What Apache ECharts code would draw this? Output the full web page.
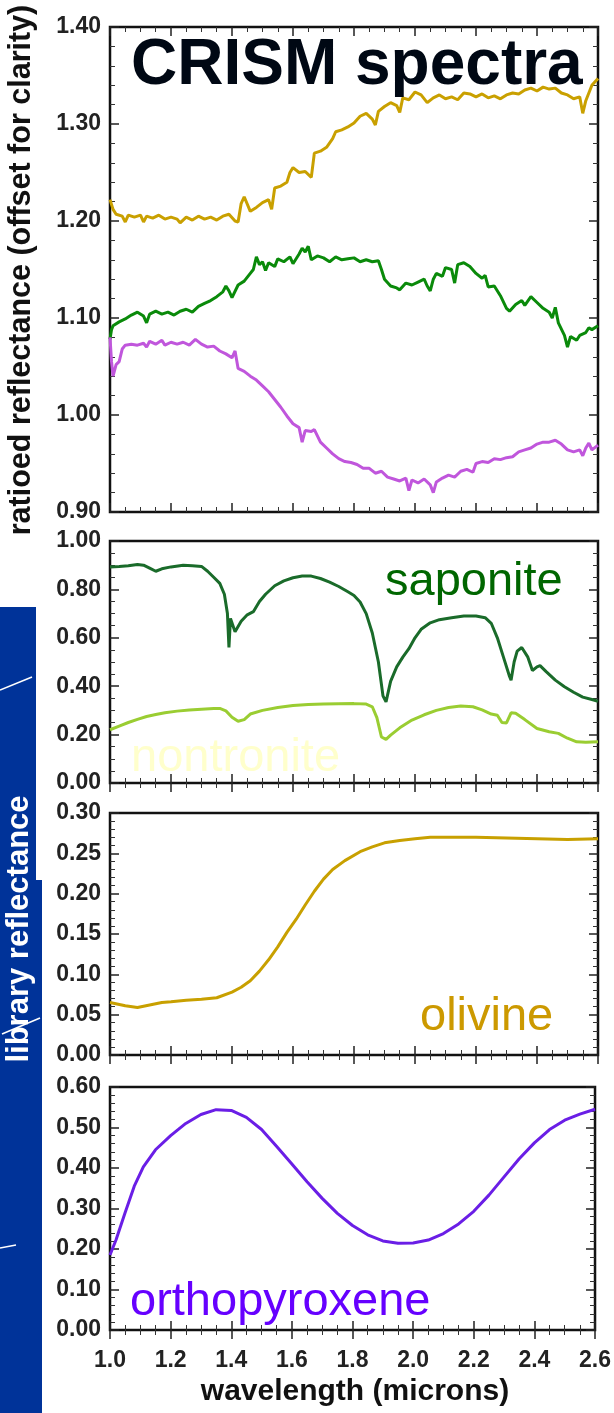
<!DOCTYPE html>
<html>
<head>
<meta charset="utf-8">
<script src="https://cdn.jsdelivr.net/npm/echarts@6/dist/echarts.min.js"></script>
<style>
  html, body { margin: 0; padding: 0; background: #fff; }
  #chart { width: 614px; height: 1413px; }
</style>
</head>
<body>
<div id="chart"></div>
<script>
// CRISM ratioed spectra (top panel)
const goldWl = [1.00,1.01,1.02,1.04,1.05,1.06,1.08,1.10,1.11,1.12,1.14,1.16,1.18,1.20,1.22,1.23,1.25,1.27,1.29,1.31,1.33,1.35,1.37,1.39,1.41,1.42,1.43,1.44,1.46,1.48,1.50,1.52,1.53,1.54,1.56,1.58,1.59,1.60,1.62,1.64,1.66,1.67,1.69,1.71,1.73,1.74,1.76,1.78,1.80,1.82,1.84,1.86,1.87,1.88,1.90,1.92,1.94,1.95,1.96,1.98,2.00,2.02,2.04,2.06,2.08,2.10,2.12,2.14,2.16,2.18,2.20,2.22,2.24,2.26,2.28,2.30,2.32,2.34,2.36,2.38,2.40,2.42,2.44,2.46,2.48,2.50,2.52,2.54,2.55,2.56,2.58,2.60];
const goldVal = [1.222,1.212,1.207,1.205,1.199,1.206,1.204,1.206,1.199,1.205,1.203,1.206,1.202,1.204,1.202,1.198,1.204,1.201,1.205,1.202,1.204,1.201,1.205,1.207,1.200,1.199,1.218,1.225,1.210,1.214,1.219,1.222,1.212,1.234,1.236,1.240,1.250,1.255,1.250,1.251,1.245,1.270,1.272,1.276,1.285,1.292,1.294,1.297,1.301,1.308,1.311,1.305,1.299,1.313,1.318,1.322,1.319,1.312,1.327,1.325,1.333,1.330,1.322,1.327,1.330,1.326,1.328,1.325,1.332,1.331,1.328,1.331,1.327,1.329,1.326,1.330,1.332,1.331,1.335,1.337,1.334,1.338,1.336,1.337,1.332,1.330,1.326,1.328,1.311,1.324,1.340,1.347];

const greenWl = [1.00,1.005,1.01,1.03,1.05,1.07,1.09,1.11,1.12,1.13,1.15,1.17,1.19,1.21,1.23,1.25,1.27,1.29,1.31,1.33,1.35,1.37,1.38,1.39,1.40,1.42,1.44,1.46,1.47,1.48,1.49,1.50,1.51,1.52,1.54,1.55,1.57,1.59,1.60,1.62,1.63,1.64,1.65,1.66,1.68,1.70,1.72,1.74,1.76,1.78,1.80,1.82,1.84,1.86,1.88,1.89,1.90,1.92,1.94,1.95,1.97,1.99,2.01,2.03,2.04,2.05,2.06,2.07,2.09,2.10,2.12,2.13,2.14,2.16,2.18,2.20,2.22,2.23,2.24,2.26,2.28,2.30,2.31,2.33,2.35,2.36,2.38,2.40,2.42,2.44,2.45,2.46,2.47,2.49,2.50,2.51,2.53,2.54,2.56,2.57,2.58,2.60];
const greenVal = [1.078,1.088,1.092,1.096,1.099,1.103,1.106,1.102,1.095,1.104,1.107,1.104,1.106,1.103,1.107,1.109,1.106,1.112,1.115,1.118,1.122,1.127,1.133,1.128,1.121,1.134,1.138,1.146,1.150,1.163,1.155,1.158,1.149,1.157,1.153,1.161,1.158,1.163,1.156,1.166,1.172,1.168,1.174,1.160,1.164,1.162,1.158,1.163,1.160,1.161,1.162,1.158,1.160,1.158,1.159,1.150,1.140,1.133,1.131,1.129,1.136,1.134,1.137,1.140,1.133,1.128,1.140,1.146,1.143,1.152,1.150,1.136,1.155,1.157,1.153,1.146,1.141,1.144,1.132,1.133,1.123,1.110,1.107,1.114,1.118,1.113,1.122,1.116,1.110,1.106,1.100,1.111,1.095,1.082,1.070,1.081,1.077,1.082,1.085,1.090,1.088,1.092];

const purpleWl = [1.00,1.005,1.01,1.02,1.03,1.04,1.05,1.07,1.09,1.11,1.12,1.13,1.15,1.17,1.18,1.20,1.22,1.24,1.26,1.28,1.30,1.32,1.34,1.36,1.38,1.40,1.41,1.42,1.44,1.46,1.48,1.50,1.52,1.54,1.56,1.58,1.60,1.62,1.63,1.64,1.66,1.67,1.69,1.71,1.73,1.75,1.77,1.79,1.81,1.83,1.85,1.87,1.89,1.91,1.93,1.95,1.97,1.98,1.99,2.01,2.03,2.05,2.06,2.07,2.09,2.11,2.13,2.15,2.17,2.19,2.20,2.22,2.24,2.26,2.28,2.30,2.32,2.34,2.36,2.38,2.40,2.42,2.44,2.46,2.48,2.50,2.52,2.54,2.55,2.56,2.57,2.58,2.60];
const purpleVal = [1.080,1.055,1.040,1.052,1.055,1.068,1.072,1.073,1.072,1.074,1.070,1.076,1.073,1.077,1.072,1.075,1.073,1.075,1.072,1.078,1.073,1.070,1.071,1.066,1.063,1.059,1.066,1.048,1.045,1.040,1.036,1.030,1.024,1.016,1.008,0.999,0.991,0.987,0.972,0.984,0.983,0.985,0.972,0.966,0.960,0.955,0.952,0.951,0.949,0.945,0.945,0.940,0.942,0.936,0.934,0.932,0.935,0.922,0.933,0.930,0.934,0.928,0.920,0.931,0.935,0.938,0.936,0.942,0.944,0.941,0.950,0.952,0.951,0.955,0.954,0.956,0.957,0.962,0.964,0.966,0.970,0.972,0.972,0.974,0.970,0.964,0.962,0.964,0.958,0.966,0.971,0.964,0.969];

// library spectra
const saponiteWl = [1.00,1.03,1.06,1.09,1.11,1.13,1.15,1.17,1.20,1.24,1.27,1.30,1.32,1.34,1.36,1.375,1.385,1.39,1.395,1.41,1.43,1.45,1.47,1.49,1.51,1.54,1.57,1.60,1.63,1.66,1.69,1.72,1.75,1.78,1.80,1.82,1.84,1.86,1.88,1.895,1.905,1.92,1.94,1.96,1.98,2.00,2.02,2.05,2.08,2.12,2.16,2.20,2.23,2.25,2.27,2.29,2.31,2.315,2.325,2.335,2.35,2.37,2.385,2.40,2.41,2.43,2.46,2.49,2.52,2.55,2.58,2.60];
const saponiteVal = [0.893,0.895,0.898,0.903,0.900,0.888,0.875,0.885,0.893,0.900,0.898,0.895,0.875,0.850,0.825,0.780,0.700,0.560,0.680,0.625,0.668,0.695,0.708,0.750,0.780,0.815,0.835,0.848,0.855,0.855,0.845,0.830,0.812,0.790,0.775,0.748,0.700,0.620,0.500,0.360,0.335,0.420,0.480,0.520,0.555,0.600,0.635,0.662,0.675,0.683,0.690,0.690,0.683,0.660,0.600,0.520,0.440,0.425,0.500,0.545,0.560,0.520,0.465,0.480,0.485,0.460,0.425,0.398,0.375,0.355,0.345,0.338];

const nontroniteWl = [1.00,1.03,1.06,1.09,1.12,1.15,1.18,1.22,1.26,1.30,1.34,1.36,1.38,1.40,1.42,1.44,1.46,1.50,1.55,1.60,1.65,1.70,1.75,1.80,1.84,1.86,1.875,1.89,1.905,1.92,1.95,1.99,2.03,2.07,2.11,2.15,2.19,2.22,2.25,2.27,2.285,2.30,2.315,2.33,2.36,2.40,2.44,2.47,2.50,2.53,2.56,2.60];
const nontroniteVal = [0.220,0.235,0.250,0.263,0.275,0.283,0.290,0.297,0.302,0.305,0.308,0.308,0.298,0.272,0.255,0.262,0.285,0.300,0.312,0.320,0.324,0.326,0.327,0.328,0.326,0.315,0.270,0.190,0.180,0.198,0.228,0.260,0.282,0.300,0.312,0.318,0.315,0.302,0.285,0.280,0.250,0.248,0.290,0.288,0.262,0.225,0.212,0.205,0.185,0.170,0.168,0.170];

const olivineWl = [1.00,1.05,1.09,1.13,1.17,1.20,1.25,1.30,1.35,1.40,1.43,1.46,1.49,1.52,1.55,1.58,1.61,1.64,1.67,1.70,1.73,1.77,1.82,1.86,1.90,1.95,2.00,2.05,2.10,2.20,2.30,2.40,2.50,2.60];
const olivineVal = [0.065,0.061,0.059,0.062,0.065,0.066,0.068,0.069,0.071,0.078,0.084,0.092,0.104,0.118,0.134,0.152,0.168,0.186,0.203,0.218,0.230,0.241,0.252,0.258,0.263,0.266,0.268,0.270,0.270,0.270,0.269,0.268,0.267,0.268];

const opxWl = [1.00,1.02,1.05,1.08,1.11,1.15,1.20,1.25,1.30,1.35,1.40,1.45,1.50,1.55,1.60,1.65,1.70,1.75,1.80,1.85,1.90,1.95,2.00,2.05,2.10,2.15,2.20,2.25,2.30,2.35,2.40,2.45,2.50,2.55,2.60];
const opxVal = [0.185,0.223,0.290,0.355,0.403,0.445,0.480,0.510,0.532,0.544,0.542,0.525,0.495,0.453,0.410,0.366,0.325,0.288,0.258,0.235,0.220,0.214,0.215,0.222,0.238,0.262,0.293,0.333,0.378,0.423,0.462,0.495,0.518,0.533,0.545];

// axis ranges: [min, max, interval, minor splits]
const xRange = [1.0, 2.6, 0.2, 4];
const yRanges = [
  [0.9, 1.4, 0.1, 5],
  [0.0, 1.0, 0.2, 4],
  [0.0, 0.3, 0.05, 5],
  [0.0, 0.6, 0.1, 5],
];

const chart = echarts.init(document.getElementById("chart"), null, { renderer: "canvas" });

const gridTops = [27, 541, 813, 1087];
const gridHeights = [485, 242, 242, 243];
const labelFont = "'Liberation Sans', Arial, Helvetica, sans-serif";

function pairs(xs, ys) {
  return xs.map((x, i) => [x, ys[i]]);
}

const tickStyle = { show: true, inside: true, length: 9, lineStyle: { color: "#222", width: 1.5 } };
const minorStyle = (n) => ({ show: true, splitNumber: n, length: 5, lineStyle: { color: "#333", width: 1 } });

const grids = [];
const xAxes = [];
const yAxes = [];
for (let i = 0; i < 4; i++) {
  grids.push({
    left: 110,
    right: 16,
    top: gridTops[i],
    height: gridHeights[i],
    show: true,
    borderColor: "#111",
    borderWidth: 2.5,
    backgroundColor: "transparent",
  });
  ["bottom", "top"].forEach((pos) => {
    xAxes.push({
      type: "value",
      gridIndex: i,
      position: pos,
      min: xRange[0],
      max: xRange[1],
      interval: xRange[2],
      axisLine: { show: false },
      axisTick: tickStyle,
      minorTick: minorStyle(xRange[3]),
      splitLine: { show: false },
      axisLabel: {
        show: pos === "bottom" && i === 3,
        margin: 19,
        color: "#222",
        fontSize: 23,
        fontWeight: "bold",
        fontFamily: labelFont,
        formatter: (v) => v.toFixed(1),
      },
    });
  });
  const yr = yRanges[i];
  ["left", "right"].forEach((pos) => {
    yAxes.push({
      type: "value",
      gridIndex: i,
      position: pos,
      min: yr[0],
      max: yr[1],
      interval: yr[2],
      axisLine: { show: false },
      axisTick: tickStyle,
      minorTick: minorStyle(yr[3]),
      splitLine: { show: false },
      axisLabel: {
        show: pos === "left",
        margin: 9,
        color: "#222",
        fontSize: 23,
        fontWeight: "bold",
        fontFamily: labelFont,
        formatter: (v) => v.toFixed(2),
      },
    });
  });
}

function line(panel, xs, ys, color, width) {
  return {
    type: "line",
    xAxisIndex: panel * 2,
    yAxisIndex: panel * 2,
    data: pairs(xs, ys),
    showSymbol: false,
    symbol: "none",
    lineStyle: { color: color, width: width },
    silent: true,
  };
}

function label(text, x, y, size, color, weight) {
  return {
    type: "text",
    x: x,
    y: y,
    z: 100,
    style: {
      text: text,
      fill: color,
      font: (weight || "normal") + " " + size + "px " + labelFont,
      textAlign: "left",
      align: "left",
      textVerticalAlign: "middle",
      verticalAlign: "middle",
    },
  };
}

function rotated(text, x, y, size, color) {
  return {
    type: "text",
    x: x,
    y: y,
    rotation: Math.PI / 2,
    z: 100,
    style: {
      text: text,
      fill: color,
      font: "bold " + size + "px " + labelFont,
      textAlign: "center",
      align: "center",
      textVerticalAlign: "middle",
      verticalAlign: "middle",
    },
  };
}

function slash(x1, y1, x2, y2) {
  return {
    type: "line",
    z: 100,
    shape: { x1: x1, y1: y1, x2: x2, y2: y2 },
    style: { stroke: "#ffffff", lineWidth: 1.5 },
  };
}

const option = {
  backgroundColor: "#ffffff",
  animation: false,
  grid: grids,
  xAxis: xAxes,
  yAxis: yAxes,
  series: [
    line(0, goldWl, goldVal, "#c9a000", 3),
    line(0, greenWl, greenVal, "#0a8a0a", 3),
    line(0, purpleWl, purpleVal, "#c056dc", 3),
    line(1, saponiteWl, saponiteVal, "#1a6b2a", 3),
    line(1, nontroniteWl, nontroniteVal, "#9acd32", 3),
    line(2, olivineWl, olivineVal, "#c8a000", 3),
    line(3, opxWl, opxVal, "#6a1ee6", 3),
  ],
  graphic: [
    { type: "rect", z: 1, shape: { x: 0, y: 607, width: 36, height: 273 }, style: { fill: "#003399" } },
    { type: "rect", z: 1, shape: { x: 0, y: 880, width: 42, height: 533 }, style: { fill: "#003399" } },
    slash(0, 690, 32, 677),
    slash(2, 1034, 40, 1018),
    slash(0, 1248, 16, 1245),
    rotated("ratioed reflectance (offset for clarity)", 22, 270, 30.5, "#111"),
    rotated("library reflectance", 19, 929, 31, "#ffffff"),
    label("CRISM spectra", 131, 66, 64, "#000814", "bold"),
    label("saponite", 385, 582, 47, "#006600"),
    label("nontronite", 131, 758, 47, "#ffffcc"),
    label("olivine", 420, 1017, 47, "#cc9900"),
    label("orthopyroxene", 130, 1302, 47, "#6600ff"),
    {
      type: "text",
      x: 355,
      y: 1392,
      z: 100,
      style: {
        text: "wavelength (microns)",
        fill: "#111",
        font: "bold 30px " + labelFont,
        textAlign: "center",
        align: "center",
        textVerticalAlign: "middle",
        verticalAlign: "middle",
      },
    },
  ],
};

chart.setOption(option);
</script>
</body>
</html>
